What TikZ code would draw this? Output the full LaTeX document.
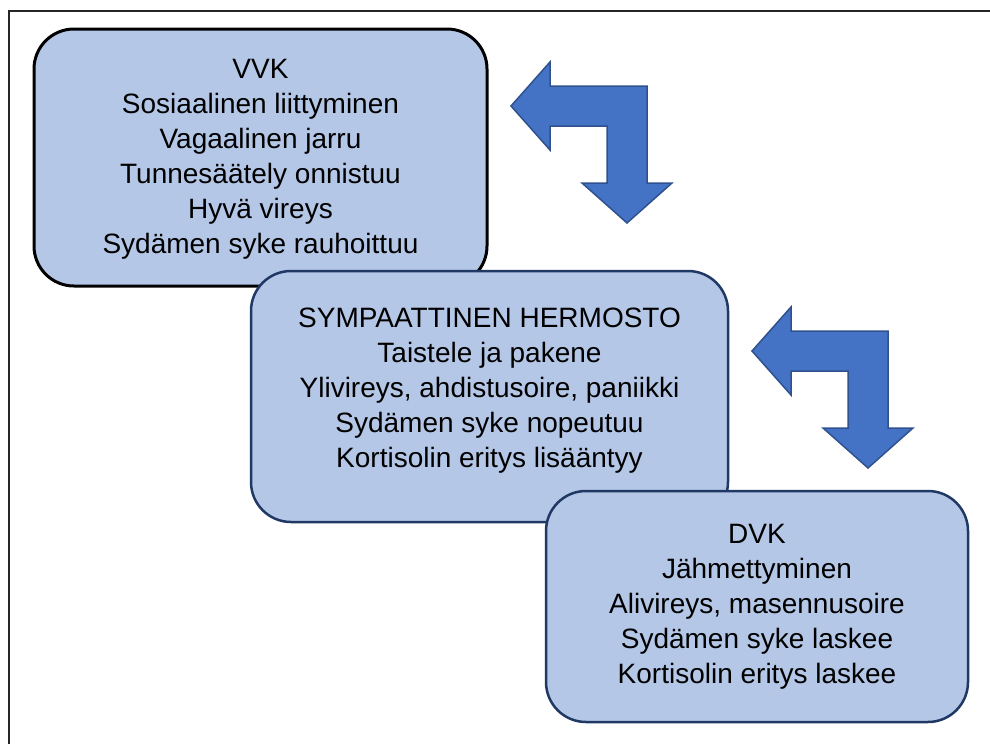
\documentclass[tikz,border=0pt]{standalone}
\usepackage{fontspec}
\setmainfont{Liberation Sans}
\usetikzlibrary{positioning}
\definecolor{boxfill}{HTML}{B4C7E7}
\definecolor{boxnavy}{HTML}{1F3864}
\definecolor{arrowblue}{HTML}{4472C4}
\definecolor{arrowedge}{HTML}{2F528F}
\tikzset{
  statebox/.style={draw=boxnavy,line width=2.5pt,fill=boxfill,rounded corners=40pt,align=center,inner sep=0pt,font=\fontsize{28}{35}\selectfont},
  topbox/.style={statebox,draw=black,line width=3pt},
  bentarrow/.pic={
    \draw[fill=arrowblue,draw=arrowedge,line width=1.5pt,line join=miter]
      (-136,20) -- (-97,-24) -- (-97,0) -- (0,0) -- (0,97) -- (25,97) -- (-20,137)
      -- (-65,97) -- (-40,97) -- (-40,40) -- (-97,40) -- (-97,64) -- cycle;
  }
}
\begin{document}
\begin{tikzpicture}[x=1pt,y=-1pt]
  \useasboundingbox (0,0) rectangle (990,744);
  \draw[line width=1.5pt,black!85] (990,11) -| (9,744);
  % the three states
  \node[topbox,minimum width=453pt,minimum height=257pt] (vvk) at (260.5,157.5)
    {\rule{0pt}{12pt}\\[-25pt]VVK\\Sosiaalinen liittyminen\\Vagaalinen jarru\\Tunnesäätely onnistuu\\Hyvä vireys\\Sydämen syke rauhoittuu};
  \node[statebox,minimum width=477pt,minimum height=251pt] (sns) at (489.5,396.5)
    {SYMPAATTINEN HERMOSTO\\Taistele ja pakene\\Ylivireys, ahdistusoire, paniikki\\Sydämen syke nopeutuu\\Kortisolin eritys lisääntyy\\[-17pt]};
  \node[statebox,minimum width=422pt,minimum height=231pt] (dvk) at (757,606.5)
    {DVK\\Jähmettyminen\\Alivireys, masennusoire\\Sydämen syke laskee\\Kortisolin eritys laskee};
  % bent arrows
  \pic at (647,86) {bentarrow};
  \pic at (888,331) {bentarrow};
\end{tikzpicture}
\end{document}
